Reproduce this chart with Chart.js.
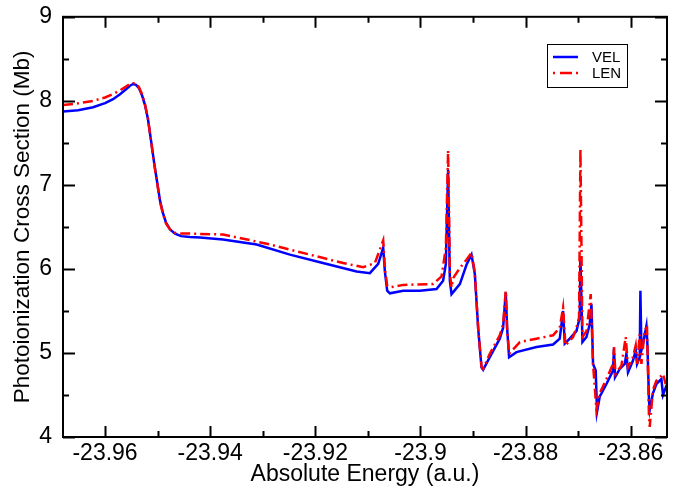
<!DOCTYPE html>
<html>
<head>
<meta charset="utf-8">
<script src="https://cdn.jsdelivr.net/npm/chart.js@4.4.1/dist/chart.umd.min.js"></script>
<style>
  html, body { margin: 0; padding: 0; background: #fff; }
  #wrap { width: 699px; height: 490px; }
</style>
</head>
<body>
<div id="wrap"><canvas id="xsChart" width="699" height="490"></canvas></div>
<script>
// VEL curve (blue, solid)
const velEnergy = [
  -23.96799, -23.96513, -23.96228, -23.96000, -23.95848, -23.95715, -23.95601, -23.95525,
  -23.95468, -23.95411, -23.95354, -23.95297, -23.95240, -23.95183, -23.95126, -23.95068,
  -23.95011, -23.94954, -23.94897, -23.94840, -23.94764, -23.94669, -23.94555, -23.94384,
  -23.94194, -23.93757, -23.93116,
  -23.92483, -23.91856, -23.91215, -23.90962, -23.90804, -23.90709, -23.90677, -23.90633,
  -23.90582, -23.90329, -23.90012, -23.89694, -23.89569, -23.89517, -23.89474, -23.89441,
  -23.89409, -23.89251, -23.89124, -23.89029, -23.88966, -23.88903, -23.88839, -23.88808,
  -23.88681, -23.88491, -23.88428, -23.88377, -23.88352, -23.88314, -23.88173, -23.87793,
  -23.87477, -23.87350, -23.87287, -23.87255, -23.87160, -23.87033, -23.86970, -23.86957,
  -23.86919, -23.86842, -23.86780, -23.86747, -23.86717, -23.86666, -23.86641, -23.86590,
  -23.86462, -23.86337, -23.86318, -23.86299, -23.86209, -23.86114, -23.86082, -23.86052,
  -23.85957, -23.85905, -23.85880, -23.85829, -23.85816, -23.85797, -23.85766, -23.85702,
  -23.85683, -23.85653, -23.85639, -23.85577, -23.85512, -23.85449, -23.85417, -23.85386,
  -23.85316
];
const velSigma = [
  7.874, 7.889, 7.924, 7.972, 8.019, 8.078, 8.137, 8.18,
  8.20, 8.19, 8.15, 8.066, 7.95, 7.78, 7.53, 7.27,
  7.04, 6.81, 6.66, 6.55, 6.47, 6.42, 6.39, 6.38,
  6.375, 6.35, 6.29,
  6.17, 6.07, 5.97, 5.95, 6.06, 6.25, 5.97, 5.74,
  5.71, 5.74, 5.74, 5.76, 5.86, 6.06, 7.18, 5.86,
  5.70, 5.82, 6.05, 6.17, 5.94, 5.30, 4.83, 4.80,
  4.95, 5.17, 5.30, 5.72, 5.30, 4.95, 5.01, 5.07,
  5.10, 5.17, 5.50, 5.11, 5.17, 5.26, 5.42, 6.15,
  5.13, 5.19, 5.34, 5.58, 4.87, 4.79, 4.30, 4.48,
  4.63, 4.79, 5.05, 4.71, 4.81, 4.87, 4.99, 4.77,
  4.91, 5.03, 4.87, 4.95, 5.74, 5.03, 5.11, 5.32,
  5.11, 4.44, 4.32, 4.52, 4.63, 4.67, 4.69, 4.50,
  4.62
];

// LEN curve (red, dash-dot)
const lenEnergy = [
  -23.96799, -23.96513, -23.96228, -23.96000, -23.95848, -23.95715, -23.95601, -23.95525,
  -23.95468, -23.95411, -23.95354, -23.95297, -23.95240, -23.95183, -23.95126, -23.95068,
  -23.95011, -23.94954, -23.94897, -23.94840, -23.94764, -23.94669, -23.94555, -23.94384,
  -23.93757, -23.92926,
  -23.92040, -23.91470, -23.91090, -23.90867, -23.90709, -23.90677, -23.90633, -23.90582,
  -23.90329, -23.89759, -23.89599, -23.89517, -23.89474, -23.89441, -23.89409, -23.89379,
  -23.89251, -23.89124, -23.89029, -23.88966, -23.88903, -23.88839, -23.88808, -23.88681,
  -23.88491, -23.88428, -23.88377, -23.88352, -23.88314, -23.88110, -23.87793, -23.87477,
  -23.87350, -23.87287, -23.87242, -23.87097, -23.87033, -23.86983, -23.86957, -23.86919,
  -23.86842, -23.86761, -23.86717, -23.86652, -23.86590, -23.86462, -23.86337, -23.86318,
  -23.86291, -23.86177, -23.86095, -23.86052, -23.85957, -23.85905, -23.85873, -23.85829,
  -23.85797, -23.85734, -23.85690, -23.85653, -23.85639, -23.85577, -23.85512, -23.85449,
  -23.85386, -23.85335
];
const lenSigma = [
  7.95, 7.97, 8.00, 8.04, 8.08, 8.125, 8.17, 8.20,
  8.21, 8.21, 8.16, 8.08, 7.96, 7.78, 7.53, 7.26,
  7.03, 6.80, 6.65, 6.54, 6.47, 6.43, 6.42, 6.42,
  6.41, 6.30,
  6.16, 6.07, 6.02, 6.07, 6.34, 6.00, 5.80, 5.78,
  5.81, 5.82, 5.91, 6.25, 7.41, 5.95, 5.78, 5.89,
  6.01, 6.11, 6.19, 5.96, 5.30, 4.84, 4.81, 4.99,
  5.21, 5.34, 5.74, 5.30, 4.99, 5.13, 5.17, 5.21,
  5.30, 5.54, 5.09, 5.19, 5.30, 5.42, 7.43, 5.19,
  5.26, 5.70, 4.87, 4.32, 4.52, 4.69, 4.87, 5.07,
  4.75, 4.85, 5.19, 4.83, 4.95, 5.09, 4.87, 5.22,
  4.87, 5.28, 5.30, 4.24, 4.12, 4.56, 4.67, 4.71,
  4.75, 4.63
];

const seriesNames = ["VEL", "LEN"];
const xTickValues = [-23.96, -23.94, -23.92, -23.90, -23.88, -23.86];
const xTickLabels = ["-23.96", "-23.94", "-23.92", "-23.9", "-23.88", "-23.86"];
const yTickValues = [4, 5, 6, 7, 8, 9];

const FONT = "'Liberation Sans', Arial, Helvetica, sans-serif";

function toPoints(xs, ys) {
  return xs.map((x, i) => ({ x: x, y: ys[i] }));
}

// Box, inward major/minor ticks on all four sides, and the legend box
const framePlugin = {
  id: "frame",
  afterDraw(chart) {
    const { ctx, chartArea: a, scales } = chart;
    const xs = scales.x, ys = scales.y;
    ctx.save();
    ctx.strokeStyle = "#000";
    ctx.lineWidth = 2;
    ctx.beginPath();
    // x ticks (major every 0.02, minor in between)
    for (let i = 0; i < xTickValues.length; i++) {
      const px = Math.round(xs.getPixelForValue(xTickValues[i])) + 0.5;
      ctx.moveTo(px, a.bottom); ctx.lineTo(px, a.bottom - 11);
      ctx.moveTo(px, a.top); ctx.lineTo(px, a.top + 11);
      const pm = Math.round(xs.getPixelForValue(xTickValues[i] + 0.01)) + 0.5;
      if (pm < a.right - 2) {
        ctx.moveTo(pm, a.bottom); ctx.lineTo(pm, a.bottom - 6);
        ctx.moveTo(pm, a.top); ctx.lineTo(pm, a.top + 6);
      }
    }
    // y ticks (major every 1, minor every 0.5)
    for (let v = 4; v <= 9; v += 0.5) {
      const py = Math.round(ys.getPixelForValue(v)) + 0.5;
      const len = Number.isInteger(v) ? 12 : 6;
      ctx.moveTo(a.left, py); ctx.lineTo(a.left + len, py);
      ctx.moveTo(a.right, py); ctx.lineTo(a.right - len, py);
    }
    ctx.stroke();
    ctx.strokeRect(a.left, a.top, a.right - a.left, a.bottom - a.top);

    // legend
    const lx = 547, ly = 44, lw = 80, lh = 43;
    ctx.fillStyle = "#fff";
    ctx.fillRect(lx, ly, lw, lh);
    ctx.lineWidth = 1;
    ctx.strokeRect(lx + 0.5, ly + 0.5, lw, lh);
    const rows = [
      { name: seriesNames[0], color: "#0000ff", dash: [], y: ly + 13 },
      { name: seriesNames[1], color: "#ff0000", dash: [2, 5, 12, 4], y: ly + 29 }
    ];
    ctx.font = "15px " + FONT;
    ctx.textBaseline = "middle";
    ctx.textAlign = "left";
    rows.forEach(r => {
      ctx.strokeStyle = r.color;
      ctx.lineWidth = 2.5;
      ctx.setLineDash(r.dash);
      ctx.beginPath();
      ctx.moveTo(lx + 6, r.y);
      ctx.lineTo(lx + 31, r.y);
      ctx.stroke();
      ctx.setLineDash([]);
      ctx.fillStyle = "#000";
      ctx.fillText(r.name, lx + 45, r.y + 1);
    });
    ctx.restore();
  }
};

new Chart(document.getElementById("xsChart"), {
  type: "line",
  data: {
    datasets: [
      {
        label: seriesNames[0],
        data: toPoints(velEnergy, velSigma),
        borderColor: "#0000ff",
        borderWidth: 2.5,
        pointRadius: 0,
        tension: 0,
        order: 2
      },
      {
        label: seriesNames[1],
        data: toPoints(lenEnergy, lenSigma),
        borderColor: "#ff0000",
        borderWidth: 2.5,
        borderDash: [10, 4, 2, 4],
        pointRadius: 0,
        tension: 0,
        order: 1
      }
    ]
  },
  options: {
    responsive: false,
    animation: false,
    layout: { padding: { top: 14, right: 32, left: 0, bottom: 0 } },
    plugins: { legend: { display: false }, tooltip: { enabled: false } },
    scales: {
      x: {
        type: "linear",
        min: -23.968,
        max: -23.8531,
        afterBuildTicks: (scale) => { scale.ticks = xTickValues.map(v => ({ value: v })); },
        afterFit: (scale) => { scale.height = 53; },
        grid: { display: false },
        border: { display: false },
        ticks: {
          color: "#000",
          font: { family: FONT, size: 23 },
          padding: -5,
          maxRotation: 0,
          autoSkip: false,
          callback: (v) => {
            const i = xTickValues.findIndex(t => Math.abs(t - v) < 1e-6);
            return i >= 0 ? xTickLabels[i] : "";
          }
        },
        title: {
          display: true,
          text: "Absolute Energy (a.u.)",
          color: "#000",
          font: { family: FONT, size: 23 },
          padding: { top: 0, bottom: 2 }
        }
      },
      y: {
        type: "linear",
        min: 4,
        max: 9,
        afterBuildTicks: (scale) => { scale.ticks = yTickValues.map(v => ({ value: v })); },
        afterFit: (scale) => { scale.width = 63; },
        grid: { display: false },
        border: { display: false },
        ticks: {
          color: "#000",
          font: { family: FONT, size: 23 },
          padding: 3
        },
        title: {
          display: true,
          text: "Photoionization Cross Section (Mb)",
          color: "#000",
          font: { family: FONT, size: 22.5 },
          padding: { top: 9, bottom: 0 }
        }
      }
    }
  },
  plugins: [framePlugin]
});
</script>
</body>
</html>
